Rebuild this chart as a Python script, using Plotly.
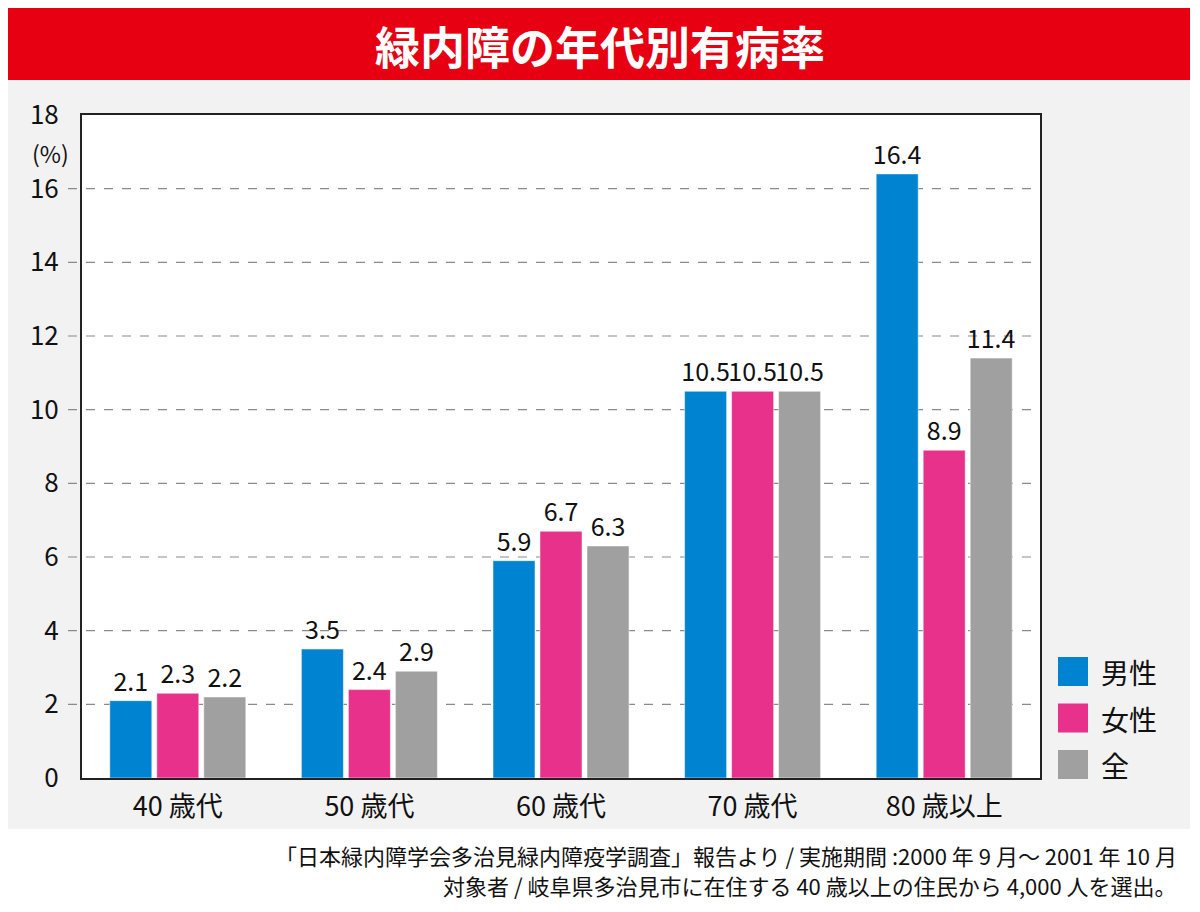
import plotly.graph_objects as go

categories = ["40 歳代", "50 歳代", "60 歳代", "70 歳代", "80 歳以上"]
series_names = ["男性", "女性", "全"]
male = [2.1, 3.5, 5.9, 10.5, 16.4]
female = [2.3, 2.4, 6.7, 10.5, 8.9]
total = [2.2, 2.9, 6.3, 10.5, 11.4]
y_ticks = [0, 2, 4, 6, 8, 10, 12, 14, 16, 18]
title_text = "緑内障の年代別有病率"
note_lines = [
    "「日本緑内障学会多治見緑内障疫学調査」報告より / 実施期間 :2000 年 9 月〜 2001 年 10 月",
    "対象者 / 岐阜県多治見市に在住する 40 歳以上の住民から 4,000 人を選出。",
]

colors = ["#0084d1", "#e8318a", "#a0a0a0"]
FONT = "Noto Sans CJK JP"
TXT = "#111111"

# page has an 8px body margin; lay out in reference pixel coords shifted by 8
OFF = 8
W, H = 1184, 896
L, T = 82 - OFF, 115 - OFF
pw, ph = 958, 663
R = W - L - pw
B = H - T - ph


def px(x):
    return (x - OFF - L) / pw


def py(y):
    return (T + ph - (y - OFF)) / ph


fig = go.Figure()
for name, vals, col in zip(series_names, [male, female, total], colors):
    fig.add_trace(go.Bar(
        x=categories, y=vals, name=name,
        marker=dict(color=col, line=dict(color="rgba(255,255,255,0.5)", width=1)),
        text=[f"{v:.1f}" for v in vals], textposition="outside",
        textfont=dict(size=25, color=TXT, family=FONT),
        cliponaxis=False, constraintext="none", showlegend=False,
    ))

shapes = []
shapes.append(dict(type="rect", xref="paper", yref="paper", x0=px(7), x1=px(1190), y0=py(829), y1=py(80),
                   fillcolor="#f2f2f2", line=dict(width=0), layer="below"))
shapes.append(dict(type="rect", xref="paper", yref="paper", x0=px(7), x1=px(1190), y0=py(80), y1=py(8),
                   fillcolor="#e60012", line=dict(width=0), layer="below"))
shapes.append(dict(type="rect", xref="paper", yref="paper", x0=0, x1=1, y0=0, y1=1,
                   fillcolor="white", line=dict(width=0), layer="below"))
for t in y_ticks[1:-1]:
    shapes.append(dict(type="line", xref="paper", yref="y", x0=px(68), x1=1, y0=t, y1=t,
                       line=dict(color="#8a8a8a", width=1.2, dash="dash"), layer="below"))

annotations = [
    dict(text=f"<b>{title_text}</b>", xref="paper", yref="paper", x=px(600), y=py(46),
         xanchor="center", yanchor="middle", showarrow=False,
         font=dict(size=45, color="white", family=FONT)),
    dict(text="(%)", xref="paper", yref="paper", x=px(50), y=py(153), xanchor="center", yanchor="middle",
         showarrow=False, font=dict(size=23, color=TXT, family=FONT)),
    dict(text=note_lines[0], xref="paper", yref="paper", x=px(1179), y=py(855), xanchor="right",
         yanchor="middle", showarrow=False, font=dict(size=22, color=TXT, family=FONT)),
    dict(text=note_lines[1], xref="paper", yref="paper", x=px(1179), y=py(885), xanchor="right",
         yanchor="middle", showarrow=False, font=dict(size=22, color=TXT, family=FONT)),
]

for i, (name, col) in enumerate(zip(series_names, colors)):
    top = 657 + i * 46.5
    shapes.append(dict(type="rect", xref="paper", yref="paper", x0=px(1058), x1=px(1088),
                       y0=py(top + 29), y1=py(top), fillcolor=col, line=dict(width=0)))
    annotations.append(dict(text=name, xref="paper", yref="paper", x=px(1099), y=py(top + 15),
                            xanchor="left", yanchor="middle", showarrow=False,
                            font=dict(size=28, color=TXT, family=FONT)))

fig.update_layout(
    width=W, height=H,
    margin=dict(l=L, r=R, t=T, b=B),
    paper_bgcolor="white", plot_bgcolor="rgba(0,0,0,0)",
    barmode="group", bargap=0.264, bargroupgap=0.106,
    font=dict(family=FONT, color=TXT),
    shapes=shapes, annotations=annotations,
    xaxis=dict(showline=True, linecolor="#222", linewidth=2, mirror=True, ticks="", showgrid=False,
               tickfont=dict(size=27, family=FONT, color=TXT), ticklabelstandoff=4),
    yaxis=dict(range=[0, 18], tickvals=y_ticks, showline=True, linecolor="#222", linewidth=2,
               mirror=True, showgrid=False, zeroline=False, ticks="",
               tickfont=dict(size=26, family=FONT, color=TXT), ticklabelstandoff=16),
)

fig.write_html("out.html")
